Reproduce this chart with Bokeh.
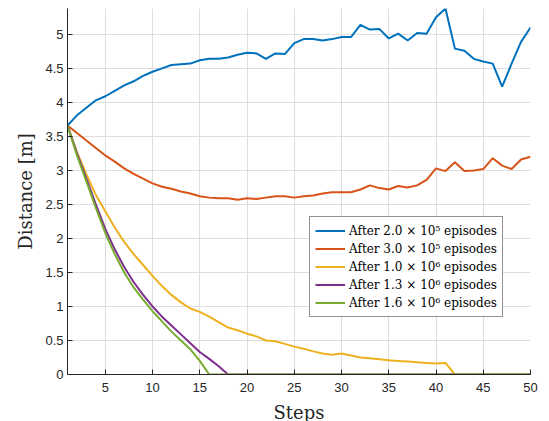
from bokeh.plotting import figure
from bokeh.models import Range1d, FixedTicker, Legend, LegendItem
from bokeh.embed import file_html
from bokeh.resources import INLINE

steps = list(range(1, 51))

blue = [3.66, 3.81, 3.92, 4.03, 4.09, 4.17, 4.25, 4.31, 4.39, 4.45,
        4.50, 4.55, 4.56, 4.57, 4.62, 4.64, 4.64, 4.66, 4.70, 4.73,
        4.72, 4.64, 4.72, 4.71, 4.87, 4.93, 4.93, 4.91, 4.93, 4.96,
        4.96, 5.14, 5.07, 5.08, 4.94, 5.01, 4.91, 5.02, 5.01, 5.25,
        5.38, 4.79, 4.76, 4.64, 4.60, 4.57, 4.23, 4.57, 4.89, 5.10]

orange = [3.66, 3.55, 3.44, 3.33, 3.22, 3.13, 3.03, 2.95, 2.88, 2.81,
          2.76, 2.73, 2.69, 2.66, 2.62, 2.60, 2.59, 2.59, 2.57, 2.59,
          2.58, 2.60, 2.62, 2.62, 2.60, 2.62, 2.63, 2.66, 2.68, 2.68,
          2.68, 2.72, 2.78, 2.74, 2.72, 2.77, 2.75, 2.78, 2.86, 3.03,
          2.99, 3.12, 2.99, 3.00, 3.02, 3.18, 3.07, 3.02, 3.16, 3.20]

yellow = [3.66, 3.27, 2.94, 2.64, 2.40, 2.16, 1.95, 1.77, 1.61, 1.45,
          1.30, 1.17, 1.06, 0.97, 0.92, 0.85, 0.77, 0.69, 0.65, 0.60,
          0.56, 0.50, 0.49, 0.45, 0.41, 0.38, 0.34, 0.31, 0.29, 0.31,
          0.28, 0.25, 0.24, 0.225, 0.21, 0.20, 0.19, 0.18, 0.17, 0.16,
          0.17, 0.0, 0.0, 0.0, 0.0, 0.0, 0.0, 0.0, 0.0, 0.0]

purple = [3.66, 3.25, 2.88, 2.50, 2.14, 1.84, 1.58, 1.36, 1.17, 1.00,
          0.85, 0.72, 0.59, 0.46, 0.33, 0.23, 0.12, 0.0, 0.0, 0.0,
          0.0, 0.0, 0.0, 0.0, 0.0, 0.0, 0.0, 0.0, 0.0, 0.0,
          0.0, 0.0, 0.0, 0.0, 0.0, 0.0, 0.0, 0.0, 0.0, 0.0,
          0.0, 0.0, 0.0, 0.0, 0.0, 0.0, 0.0, 0.0, 0.0, 0.0]

green = [3.66, 3.22, 2.84, 2.45, 2.08, 1.77, 1.50, 1.28, 1.10, 0.93,
         0.78, 0.63, 0.50, 0.37, 0.20, 0.0, 0.0, 0.0, 0.0, 0.0,
         0.0, 0.0, 0.0, 0.0, 0.0, 0.0, 0.0, 0.0, 0.0, 0.0,
         0.0, 0.0, 0.0, 0.0, 0.0, 0.0, 0.0, 0.0, 0.0, 0.0,
         0.0, 0.0, 0.0, 0.0, 0.0, 0.0, 0.0, 0.0, 0.0, 0.0]

labels = ["After 2.0 \u00d7 10\u2075 episodes",
          "After 3.0 \u00d7 10\u2075 episodes",
          "After 1.0 \u00d7 10\u2076 episodes",
          "After 1.3 \u00d7 10\u2076 episodes",
          "After 1.6 \u00d7 10\u2076 episodes"]
colors = ["#0072BD", "#D95319", "#EDB120", "#7E2F8E", "#77AC30"]
series = [blue, orange, yellow, purple, green]

x_ticks = [5, 10, 15, 20, 25, 30, 35, 40, 45, 50]
y_ticks = [0, 0.5, 1, 1.5, 2, 2.5, 3, 3.5, 4, 4.5, 5]
y_tick_labels = ["0", "0.5", "1", "1.5", "2", "2.5", "3", "3.5", "4", "4.5", "5"]

p = figure(frame_width=463, frame_height=366,
           x_range=Range1d(1, 50), y_range=Range1d(0, 5.38),
           output_backend="svg", toolbar_location=None,
           min_border_left=67, min_border_right=11,
           min_border_top=8, min_border_bottom=46)
p.outline_line_color = None
p.background_fill_color = "white"
p.border_fill_color = "white"

items = []
for ys, c, lab in zip(series, colors, labels):
    r = p.line(steps, ys, line_color=c, line_width=2)
    items.append(LegendItem(label=lab, renderers=[r]))

for ax in (p.xaxis[0], p.yaxis[0]):
    ax.axis_line_color = "#262626"
    ax.major_tick_line_color = "#262626"
    ax.major_tick_in = 5
    ax.major_tick_out = 0
    ax.minor_tick_line_color = None
    ax.major_label_text_font = "Liberation Sans"
    ax.major_label_text_font_size = "13px"
    ax.major_label_text_color = "#262626"
    ax.axis_label_text_font = "DejaVu Serif"
    ax.axis_label_text_font_size = "18px"
    ax.axis_label_text_font_style = "normal"
    ax.axis_label_text_color = "#262626"

p.xaxis.ticker = FixedTicker(ticks=x_ticks)
p.yaxis.ticker = FixedTicker(ticks=y_ticks)
p.yaxis.major_label_overrides = {t: l for t, l in zip(y_ticks, y_tick_labels)}
p.xaxis.axis_label = "Steps"
p.yaxis.axis_label = "Distance [m]"
p.xaxis.major_label_standoff = 8
p.yaxis.major_label_standoff = 4
p.xaxis.axis_label_standoff = 7
p.yaxis.axis_label_standoff = 6

p.xgrid.ticker = FixedTicker(ticks=x_ticks)
p.ygrid.ticker = FixedTicker(ticks=y_ticks)
p.grid.grid_line_color = "#dedede"
p.grid.grid_line_width = 1

legend = Legend(items=items, location=(242, 57))
legend.border_line_color = "#262626"
legend.border_line_width = 1
legend.background_fill_color = "white"
legend.background_fill_alpha = 1
legend.label_text_font = "DejaVu Serif"
legend.label_text_font_size = "12px"
legend.label_text_color = "#000000"
legend.glyph_width = 30
legend.glyph_height = 17
legend.label_height = 17
legend.label_standoff = 4
legend.spacing = 1
legend.padding = 5
legend.margin = 0
p.add_layout(legend)

open("out.html", "w").write(file_html(p, INLINE))
